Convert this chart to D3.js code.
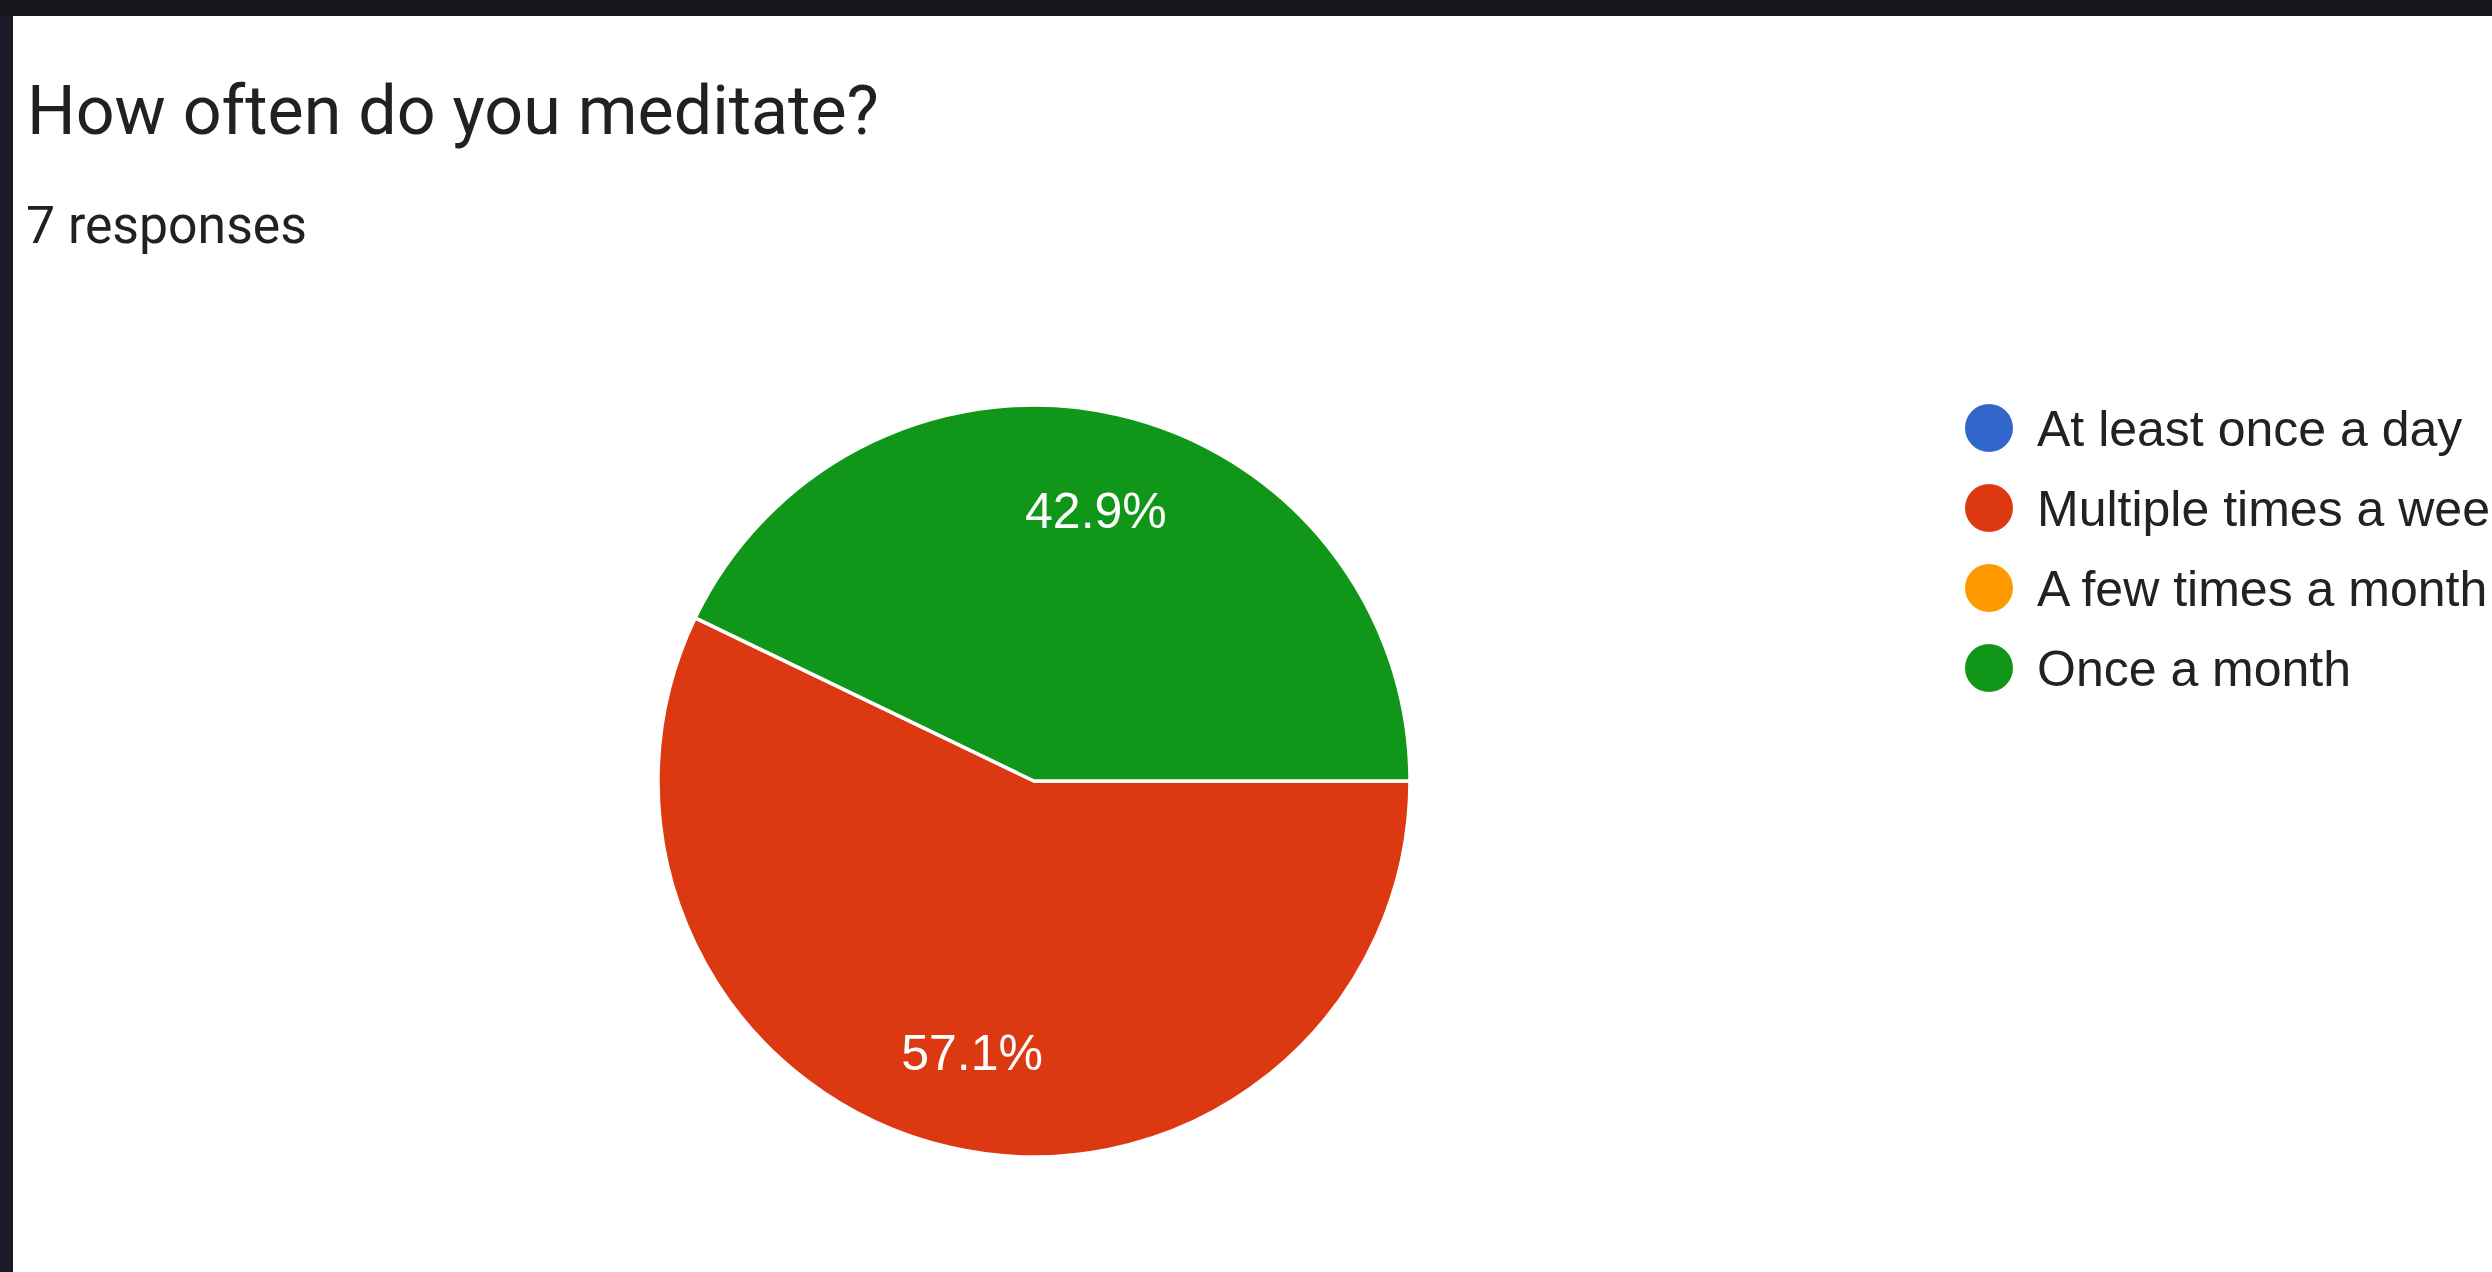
<!DOCTYPE html>
<html>
<head>
<meta charset="utf-8">
<script src="https://cdn.jsdelivr.net/npm/d3@7"></script>
<style>
  html, body { margin: 0; padding: 0; background: #ffffff; overflow: hidden; }
  svg { display: block; }
</style>
</head>
<body>
<script>
// ---- data ----
const title = "How often do you meditate?";
const subtitle = "7 responses";
const categories = ["At least once a day", "Multiple times a week", "A few times a month", "Once a month"];
const counts = [0, 4, 0, 3];
const colors = ["#3366cc", "#dc3912", "#ff9900", "#109618"];

// ---- layout ----
const W = 2492, H = 1272;
const svg = d3.select("body").append("svg").attr("width", W).attr("height", H);

svg.append("rect").attr("x", 0).attr("y", 0).attr("width", W).attr("height", H).attr("fill", "#ffffff");
// dark frame of the screenshot
svg.append("rect").attr("x", 0).attr("y", 0).attr("width", 13).attr("height", H).attr("fill", "#1c1b28");
svg.append("rect").attr("x", 0).attr("y", 0).attr("width", W).attr("height", 16).attr("fill", "#17161d");

// title & subtitle (fit to measured widths)
function fitText(sel, targetW) {
  const len = sel.node().getComputedTextLength();
  const fs = parseFloat(sel.attr("font-size"));
  sel.attr("font-size", (fs * targetW / len).toFixed(2));
}
const t1 = svg.append("text").attr("x", 27).attr("y", 134)
  .attr("font-family", "Roboto, 'Noto Sans', sans-serif").attr("font-size", 69)
  .attr("fill", "#202124").text(title);
fitText(t1, 852);
const t2 = svg.append("text").attr("x", 26).attr("y", 243)
  .attr("font-family", "Roboto, 'Noto Sans', sans-serif").attr("font-size", 49)
  .attr("fill", "#202124").text(subtitle);
fitText(t2, 281);

// pie
const cx = 1034, cy = 781, r = 376;
const total = d3.sum(counts);
const pie = d3.pie().sort(null).value(d => d)
  .startAngle(Math.PI / 2).endAngle(Math.PI / 2 + 2 * Math.PI);
const arcs = pie(counts);
const arc = d3.arc().innerRadius(0).outerRadius(r);
const labelArc = d3.arc().innerRadius(r * 0.74).outerRadius(r * 0.74);

const g = svg.append("g").attr("transform", `translate(${cx},${cy})`);
g.selectAll("path.slice").data(arcs.filter(a => a.value > 0)).enter().append("path")
  .attr("class", "slice")
  .attr("d", arc)
  .attr("fill", d => colors[d.index])
  .attr("stroke", "#ffffff").attr("stroke-width", 3.5).attr("stroke-linejoin", "round");

const pct = d3.format(".1%");
g.selectAll("text.lbl").data(arcs.filter(a => a.value > 0)).enter().append("text")
  .attr("class", "lbl")
  .attr("transform", d => `translate(${labelArc.centroid(d)})`)
  .attr("text-anchor", "middle").attr("dy", "0.36em")
  .attr("font-family", "Arial, 'Liberation Sans', sans-serif").attr("font-size", 50)
  .attr("fill", "#ffffff")
  .text(d => pct(d.value / total));

// legend
const legY = d3.scalePoint().domain(categories).range([428, 668]);
const leg = svg.append("g");
const items = leg.selectAll("g.item").data(categories).enter().append("g")
  .attr("class", "item")
  .attr("transform", d => `translate(0,${legY(d)})`);
items.append("circle").attr("cx", 1989).attr("cy", 0).attr("r", 24)
  .attr("fill", (d, i) => colors[i]);
items.append("text").attr("x", 2037).attr("y", 0).attr("dy", "0.36em")
  .attr("font-family", "Arial, 'Liberation Sans', sans-serif").attr("font-size", 50)
  .attr("fill", "#222222").text(d => d);
</script>
</body>
</html>
